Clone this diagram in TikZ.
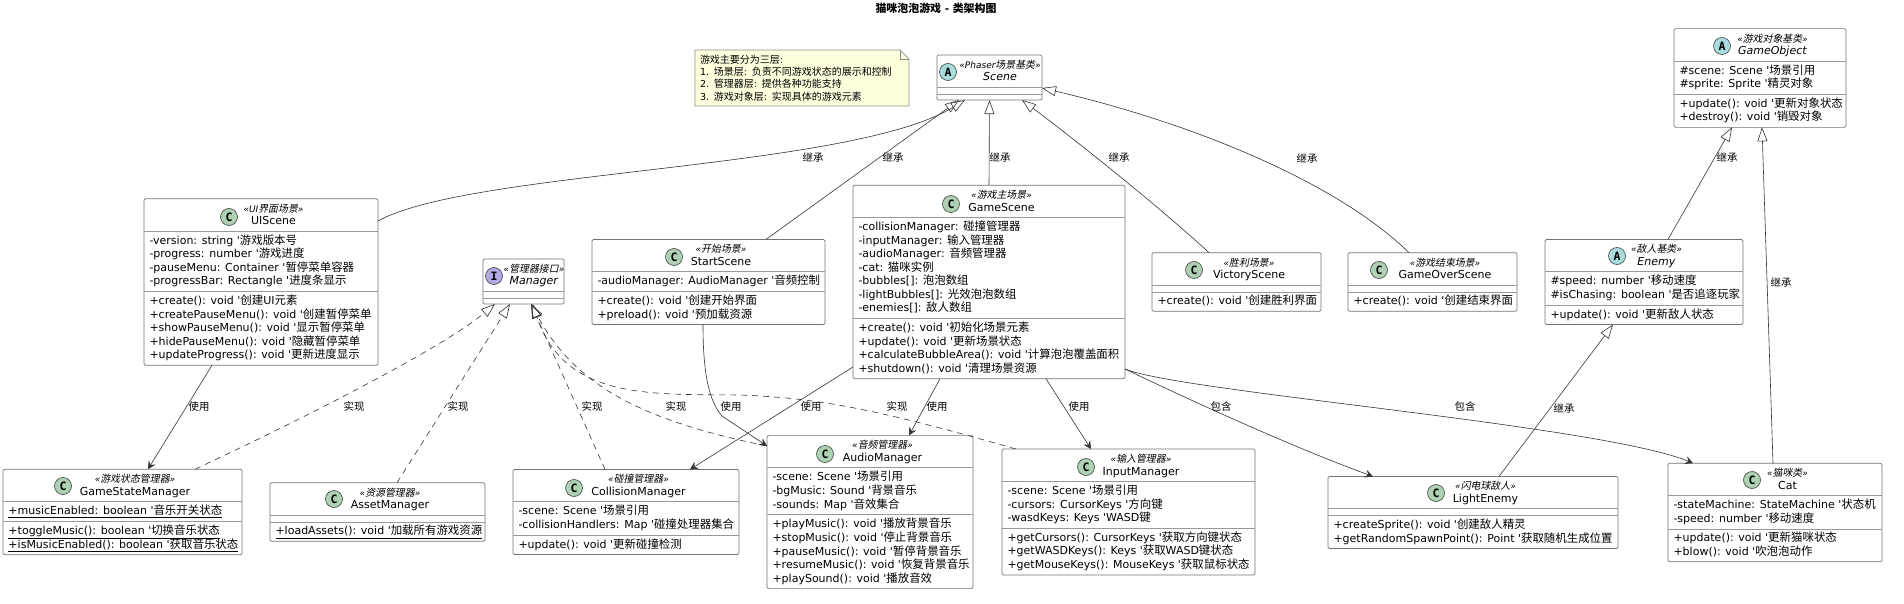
\documentclass[tikz,border=0pt]{standalone}
\usepackage{fontspec}
\usepackage{array}
\usepackage{colortbl}
\usepackage{tikz}
\usetikzlibrary{arrows.meta}
\usetikzlibrary{shapes}
\usetikzlibrary{backgrounds}
\newfontfamily\umlfont{DejaVu Sans}
\newfontfamily\iconfont{DejaVu Sans Mono}
\newfontfamily\zhfont{Noto Sans CJK SC}[Scale=1.04]
\newfontfamily\zhslant{Noto Sans CJK SC}[Scale=1.1,FakeSlant=0.2]
\newcommand{\zh}[1]{{\zhfont #1}}
\newcommand{\zi}[1]{{\zhslant #1}}
\definecolor{iconC}{HTML}{ADD1B2}
\definecolor{iconA}{HTML}{A9DCDF}
\definecolor{iconI}{HTML}{B4A7E5}
\definecolor{notefill}{HTML}{FEFFDD}
\tikzstyle{classbox}=[rectangle, rounded corners=1.5pt, draw=black!55, line width=.7pt, fill=white, inner sep=0pt, outer sep=0pt, font=\umlfont\fontsize{11}{13}\selectfont]
\tikzstyle{classicon}=[circle, draw=black!75, line width=.6pt, minimum size=17pt, inner sep=0pt, font=\iconfont\bfseries\fontsize{11.5}{11.5}\selectfont]
\tikzstyle{notebox}=[draw=black!45, line width=.7pt, fill=notefill]
\tikzstyle{notetext}=[inner sep=0pt, outer sep=0pt, text width=204pt, align=left, font=\umlfont\fontsize{9.6}{12.3}\selectfont]
\tikzstyle{tran}=[draw=black!80, line width=.6pt]
\tikzstyle{inherit}=[tran, -{Triangle[open,length=14pt,width=10pt]}]
\tikzstyle{implements}=[inherit, dash pattern=on 6pt off 5pt]
\tikzstyle{usedep}=[tran, -{Stealth[length=8pt,width=8pt,inset=3pt]}]
\tikzstyle{edgelabel}=[inner sep=0pt, font=\umlfont\fontsize{10}{12}\selectfont]
\newcolumntype{M}[1]{@{\hspace{5.5pt}}w{l}{#1}@{}}
\newcommand{\firstline}{\rule{0pt}{12.6pt}}
\newcommand{\classhead}[3]{\multicolumn{1}{@{}c@{}}{\rule[-6pt]{0pt}{32pt}\hspace{#1}\makebox[0pt]{\raisebox{12.5pt}[0pt][0pt]{\itshape\fontsize{9}{11}\selectfont #2}}\makebox[0pt]{#3}}}
\setlength{\arrayrulewidth}{.8pt}
\arrayrulecolor{black!40}

\begin{document}
\begin{tikzpicture}[x=1pt, y=-1pt]
\useasboundingbox (0,0) rectangle (1904,604);

\node[inner sep=0pt, font=\umlfont\bfseries\fontsize{10.5}{12}\selectfont] (title) at (936,8) {\zh{猫咪泡泡游戏} - \zh{类架构图}};

\node[notetext] (note) at (802,78)
{
\zh{游戏主要分为三层}:\\
1. \zh{场景层}: \zh{负责不同游戏状态的展示和控制}\\
2. \zh{管理器层}: \zh{提供各种功能支持}\\
3. \zh{游戏对象层}: \zh{实现具体的游戏元素}
};
\coordinate (notenw) at (695,50);
\coordinate (notefold) at (900,50);
\coordinate (noteear) at (909,59);
\coordinate (notese) at (909,106);
\begin{scope}[on background layer]
\draw[notebox] (notenw) -- (notefold) -- (noteear) -- (notese) -- (notenw |- notese) -- cycle;
\draw[notebox, fill=none] (notefold) |- (noteear);
\end{scope}

\node[classbox] (scene) at (989.5,77.5)
{
\begin{tabular}{M{99.5pt}}
\\[-13pt]
\classhead{21pt}{«Phaser\zi{场景基类}»}{\textit{Scene}}\\ \hline
\noalign{\vskip 6pt} \hline
\noalign{\vskip 5.5pt}
\end{tabular}
};
\node[classicon, fill=iconA] (sceneicon) at (948,72) {A};

\node[classbox] (gameobject) at (1760,78)
{
\begin{tabular}{M{166.5pt}}
\classhead{25pt}{«\zi{游戏对象基类}»}{\textit{GameObject}}\\ \hline
\firstline \#scene: Scene '\zh{场景引用}\\
\#sprite: Sprite '\zh{精灵对象}\\[2.5pt] \hline
\firstline +update(): void '\zh{更新对象状态}\\
+destroy(): void '\zh{销毁对象}\\[2.5pt]
\end{tabular}
};
\node[classicon, fill=iconA] (gameobjecticon) at (1722,46) {A};

\node[classbox] (uiscene) at (261,282)
{
\begin{tabular}{M{228.5pt}}
\classhead{25pt}{«UI\zi{界面场景}»}{UIScene}\\ \hline
\firstline -version: string '\zh{游戏版本号}\\
-progress: number '\zh{游戏进度}\\
-pauseMenu: Container '\zh{暂停菜单容器}\\
-progressBar: Rectangle '\zh{进度条显示}\\[2.5pt] \hline
\firstline +create(): void '\zh{创建}UI\zh{元素}\\
+createPauseMenu(): void '\zh{创建暂停菜单}\\
+showPauseMenu(): void '\zh{显示暂停菜单}\\
+hidePauseMenu(): void '\zh{隐藏暂停菜单}\\
+updateProgress(): void '\zh{更新进度显示}\\[2.5pt]
\end{tabular}
};
\node[classicon, fill=iconC] (uisceneicon) at (229,217) {C};

\node[classbox] (manager) at (523.5,281.5)
{
\begin{tabular}{M{75.5pt}}
\\[-13pt]
\classhead{21pt}{«\zi{管理器接口}»}{\textit{Manager}}\\ \hline
\noalign{\vskip 6pt} \hline
\noalign{\vskip 5.5pt}
\end{tabular}
};
\node[classicon, fill=iconI] (managericon) at (494,276) {I};

\node[classbox] (startscene) at (708.5,282)
{
\begin{tabular}{M{227.5pt}}
\classhead{25pt}{«\zi{开始场景}»}{StartScene}\\ \hline
\firstline -audioManager: AudioManager '\zh{音频控制}\\[2.5pt] \hline
\firstline +create(): void '\zh{创建开始界面}\\
+preload(): void '\zh{预加载资源}\\[2.5pt]
\end{tabular}
};
\node[classicon, fill=iconC] (startsceneicon) at (674,257) {C};

\node[classbox] (gamescene) at (989,282)
{
\begin{tabular}{M{266.5pt}}
\classhead{25pt}{«\zi{游戏主场景}»}{GameScene}\\ \hline
\firstline -collisionManager: \zh{碰撞管理器}\\
-inputManager: \zh{输入管理器}\\
-audioManager: \zh{音频管理器}\\
-cat: \zh{猫咪实例}\\
-bubbles[]: \zh{泡泡数组}\\
-lightBubbles[]: \zh{光效泡泡数组}\\
-enemies[]: \zh{敌人数组}\\[2.5pt] \hline
\firstline +create(): void '\zh{初始化场景元素}\\
+update(): void '\zh{更新场景状态}\\
+calculateBubbleArea(): void '\zh{计算泡泡覆盖面积}\\
+shutdown(): void '\zh{清理场景资源}\\[2.5pt]
\end{tabular}
};
\node[classicon, fill=iconC] (gamesceneicon) at (951,204) {C};

\node[classbox] (victory) at (1236.5,282)
{
\begin{tabular}{M{163.5pt}}
\classhead{25pt}{«\zi{胜利场景}»}{VictoryScene}\\ \hline
\noalign{\vskip 6pt} \hline
\firstline +create(): void '\zh{创建胜利界面}\\[2.5pt]
\end{tabular}
};
\node[classicon, fill=iconC] (victoryicon) at (1194,270) {C};

\node[classbox] (gameover) at (1432.5,282)
{
\begin{tabular}{M{163.5pt}}
\classhead{25pt}{«\zi{游戏结束场景}»}{GameOverScene}\\ \hline
\noalign{\vskip 6pt} \hline
\firstline +create(): void '\zh{创建结束界面}\\[2.5pt]
\end{tabular}
};
\node[classicon, fill=iconC] (gameovericon) at (1379,270) {C};

\node[classbox] (enemy) at (1644,282)
{
\begin{tabular}{M{192.5pt}}
\classhead{25pt}{«\zi{敌人基类}»}{\textit{Enemy}}\\ \hline
\firstline \#speed: number '\zh{移动速度}\\
\#isChasing: boolean '\zh{是否追逐玩家}\\[2.5pt] \hline
\firstline +update(): void '\zh{更新敌人状态}\\[2.5pt]
\end{tabular}
};
\node[classicon, fill=iconA] (enemyicon) at (1617,256) {A};

\node[classbox] (gamestate) at (122.5,512)
{
\begin{tabular}{M{233.5pt}}
\classhead{25pt}{«\zi{游戏状态管理器}»}{GameStateManager}\\ \hline
\firstline \underline{+musicEnabled: boolean '\zh{音乐开关状态}}\\[2.5pt] \hline
\firstline \underline{+toggleMusic(): boolean '\zh{切换音乐状态}}\\
\underline{+isMusicEnabled(): boolean '\zh{获取音乐状态}}\\[2.5pt]
\end{tabular}
};
\node[classicon, fill=iconC] (gamestateicon) at (63,486) {C};

\node[classbox] (asset) at (377.5,512)
{
\begin{tabular}{M{209.5pt}}
\classhead{25pt}{«\zi{资源管理器}»}{AssetManager}\\ \hline
\noalign{\vskip 6pt} \hline
\firstline \underline{+loadAssets(): void '\zh{加载所有游戏资源}}\\[2.5pt]
\end{tabular}
};
\node[classicon, fill=iconC] (asseticon) at (334,499) {C};

\node[classbox] (collision) at (626,512)
{
\begin{tabular}{M{220.5pt}}
\classhead{25pt}{«\zi{碰撞管理器}»}{CollisionManager}\\ \hline
\firstline -scene: Scene '\zh{场景引用}\\
-collisionHandlers: Map '\zh{碰撞处理器集合}\\[2.5pt] \hline
\firstline +update(): void '\zh{更新碰撞检测}\\[2.5pt]
\end{tabular}
};
\node[classicon, fill=iconC] (collisionicon) at (574,488) {C};

\node[classbox] (audio) at (870,512)
{
\begin{tabular}{M{200.5pt}}
\classhead{25pt}{«\zi{音频管理器}»}{AudioManager}\\ \hline
\firstline -scene: Scene '\zh{场景引用}\\
-bgMusic: Sound '\zh{背景音乐}\\
-sounds: Map '\zh{音效集合}\\[2.5pt] \hline
\firstline +playMusic(): void '\zh{播放背景音乐}\\
+stopMusic(): void '\zh{停止背景音乐}\\
+pauseMusic(): void '\zh{暂停背景音乐}\\
+resumeMusic(): void '\zh{恢复背景音乐}\\
+playSound(): void '\zh{播放音效}\\[2.5pt]
\end{tabular}
};
\node[classicon, fill=iconC] (audioicon) at (825,454) {C};

\node[classbox] (input) at (1128.5,512)
{
\begin{tabular}{M{247.5pt}}
\classhead{25pt}{«\zi{输入管理器}»}{InputManager}\\ \hline
\firstline -scene: Scene '\zh{场景引用}\\
-cursors: CursorKeys '\zh{方向键}\\
-wasdKeys: Keys 'WASD\zh{键}\\[2.5pt] \hline
\firstline +getCursors(): CursorKeys '\zh{获取方向键状态}\\
+getWASDKeys(): Keys '\zh{获取}WASD\zh{键状态}\\
+getMouseKeys(): MouseKeys '\zh{获取鼠标状态}\\[2.5pt]
\end{tabular}
};
\node[classicon, fill=iconC] (inputicon) at (1086,467) {C};

\node[classbox] (lightenemy) at (1473,512.5)
{
\begin{tabular}{M{284.5pt}}
\classhead{25pt}{«\zi{闪电球敌人}»}{LightEnemy}\\ \hline
\noalign{\vskip 6pt} \hline
\firstline +createSprite(): void '\zh{创建敌人精灵}\\
+getRandomSpawnPoint(): Point '\zh{获取随机生成位置}\\[2.5pt]
\end{tabular}
};
\node[classicon, fill=iconC] (lightenemyicon) at (1436,493) {C};

\node[classbox] (cat) at (1775,512.5)
{
\begin{tabular}{M{208.5pt}}
\classhead{25pt}{«\zi{猫咪类}»}{Cat}\\ \hline
\firstline -stateMachine: StateMachine '\zh{状态机}\\
-speed: number '\zh{移动速度}\\[2.5pt] \hline
\firstline +update(): void '\zh{更新猫咪状态}\\
+blow(): void '\zh{吹泡泡动作}\\[2.5pt]
\end{tabular}
};
\node[classicon, fill=iconC] (caticon) at (1752,480) {C};

\draw[inherit] ([yshift=61pt]uiscene.east) .. controls (470,170) and (850,170) .. ([xshift=-24.5pt]scene.south);
\draw[inherit] ([xshift=57.5pt]startscene.north) -- ([xshift=-30.5pt]scene.south);
\draw[inherit] (gamescene.north) -- (scene.south);
\draw[inherit] ([xshift=-27.5pt]victory.north) .. controls (1164,211) and (1082,145) .. ([xshift=32.5pt]scene.south);
\draw[inherit] ([xshift=-23.5pt]gameover.north) .. controls (1340,185) and (1200,125) .. ([yshift=-10.5pt]scene.east);
\draw[inherit] ([xshift=24pt]enemy.north) -- ([xshift=-28pt]gameobject.south);
\draw[inherit] ([xshift=-2pt]cat.north) -- ([xshift=2pt]gameobject.south);
\draw[inherit] ([xshift=26pt]lightenemy.north) -- ([xshift=-31pt]enemy.south);

\draw[usedep] ([xshift=-49pt]uiscene.south) -- ([xshift=25.5pt]gamestate.north);
\draw[usedep] ([xshift=-5.5pt]startscene.south) .. controls (703,370) and (708,400) .. (722,416) -- ([yshift=66pt]audio.west);
\draw[usedep] ([yshift=-85pt]gamescene.west) -- ([xshift=64pt]collision.north);
\draw[usedep] ([xshift=-49pt]gamescene.south) -- ([xshift=39pt]audio.north);
\draw[usedep] ([xshift=57pt]gamescene.south) -- ([xshift=-37.5pt]input.north);
\draw[usedep] ([yshift=-87pt]gamescene.east) .. controls (1200,405) and (1300,450) .. ([xshift=-100pt]lightenemy.north);
\draw[usedep] ([yshift=-87pt]gamescene.east) .. controls (1180,392) and (1600,425) .. ([xshift=-82pt]cat.north);

\draw[implements] ([xshift=72.5pt]gamestate.north) .. controls (290,425) and (440,350) .. ([xshift=-28.5pt]manager.south);
\draw[implements] ([xshift=19.5pt]asset.north) -- ([xshift=-13.5pt]manager.south);
\draw[implements] ([xshift=-21pt]collision.north) -- ([xshift=7.5pt]manager.south);
\draw[implements] ([yshift=66pt]audio.west) .. controls (640,420) and (575,385) .. ([xshift=7.5pt]manager.south);
\draw[implements] ([xshift=-112.5pt]input.north) .. controls (880,410) and (820,398) .. (740,395) .. controls (650,394) and (565,400) .. ([xshift=9pt]manager.south);

\node[edgelabel] (inh1) at (813,157) {\zh{继承}};
\node[edgelabel] (inh2) at (893,157) {\zh{继承}};
\node[edgelabel] (inh3) at (1000,157) {\zh{继承}};
\node[edgelabel] (inh4) at (1119,157) {\zh{继承}};
\node[edgelabel] (inh5) at (1307,158) {\zh{继承}};
\node[edgelabel] (inh6) at (1727,157) {\zh{继承}};
\node[edgelabel] (inh7) at (1781,282) {\zh{继承}};
\node[edgelabel] (inh8) at (1564,408) {\zh{继承}};

\node[edgelabel] (use1) at (199,407) {\zh{使用}};
\node[edgelabel] (use2) at (731,407) {\zh{使用}};
\node[edgelabel] (use3) at (811,407) {\zh{使用}};
\node[edgelabel] (use4) at (937,407) {\zh{使用}};
\node[edgelabel] (use5) at (1079,407) {\zh{使用}};

\node[edgelabel] (imp1) at (354,407) {\zh{实现}};
\node[edgelabel] (imp2) at (458,407) {\zh{实现}};
\node[edgelabel] (imp3) at (592,407) {\zh{实现}};
\node[edgelabel] (imp4) at (676,407) {\zh{实现}};
\node[edgelabel] (imp5) at (897,407) {\zh{实现}};

\node[edgelabel] (has1) at (1221,407) {\zh{包含}};
\node[edgelabel] (has2) at (1465,407) {\zh{包含}};

\end{tikzpicture}
\end{document}
